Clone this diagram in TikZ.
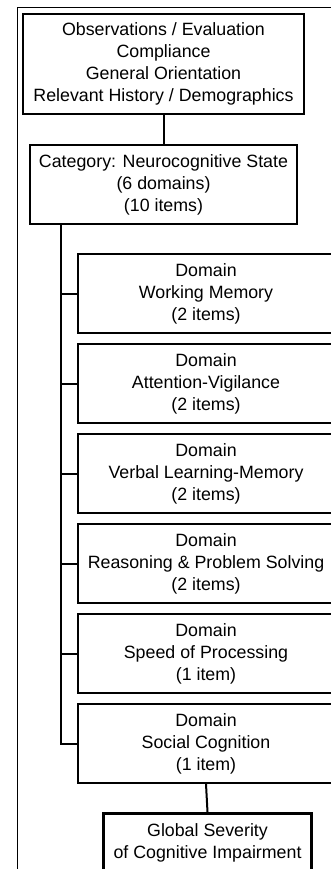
\documentclass[tikz,border=0pt]{standalone}
\usepackage{fontspec}
\setsansfont{Liberation Sans}
\usetikzlibrary{positioning,calc}

\begin{document}
\begin{tikzpicture}[x=1pt,y=-1pt]

  % Set default font and box looks
  \tikzset{
    every node/.style={font=\sffamily\fontsize{17.8}{22}\selectfont},
    infobox/.style={draw, line width=2pt, rectangle, align=center,
      anchor=north west, inner sep=0pt},
    domainbox/.style={infobox, minimum width=256pt, minimum height=79pt},
    link/.style={line width=2pt}
  }

  \useasboundingbox (0,0) rectangle (331,869);
  \clip (0,0) rectangle (331,869);

  % Outer frame
  \draw[line width=1pt] (17,869) -- (17,8) -- (340,8);

  % Intake and category
  \node[infobox, minimum width=281pt, minimum height=100pt] (intake) at (22,13)
    {Observations / Evaluation\\Compliance\\General Orientation\\Relevant History / Demographics};

  \node[infobox, minimum width=267pt, minimum height=79pt] (category) at (29,144)
    {Category: Neurocognitive State\\(6 domains)\\(10 items)};

  % Domains
  \node[domainbox] (dom1) at (77,253) {Domain\\Working Memory\\(2 items)};
  \node[domainbox] (dom2) at (77,343) {Domain\\Attention-Vigilance\\(2 items)};
  \node[domainbox] (dom3) at (77,433) {Domain\\Verbal Learning-Memory\\(2 items)};
  \node[domainbox] (dom4) at (77,523) {Domain\\Reasoning \& Problem Solving\\(2 items)};
  \node[domainbox] (dom5) at (77,613) {Domain\\Speed of Processing\\(1 item)};
  \node[domainbox] (dom6) at (77,703) {Domain\\Social Cognition\\(1 item)};

  % Global rating
  \node[infobox, line width=3pt, minimum width=208pt, minimum height=59pt] (global) at (102,812)
    {Global Severity\\of Cognitive Impairment};

  % Connectors
  \coordinate (trunk) at ($(category.south west)+(32,0)$);
  \draw[link] (intake.south) -- (category.north);
  \draw[link] (trunk) |- (dom6.west);
  \foreach \d in {dom1,dom2,dom3,dom4,dom5}
    \draw[link] (\d.west) -- (\d.west -| trunk);
  \draw[link] (dom6.south) -- (global.north);

\end{tikzpicture}
\end{document}
